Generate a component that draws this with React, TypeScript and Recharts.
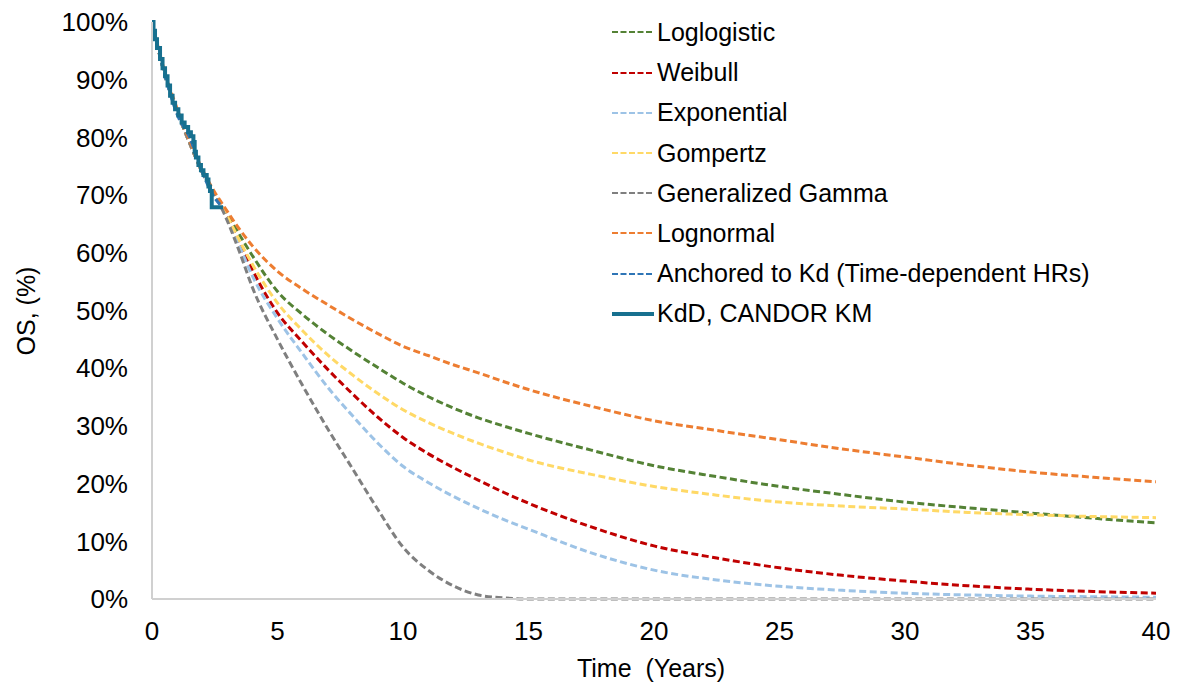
import { Legend, Line, LineChart, XAxis, YAxis } from 'recharts'

// Model time grid (years) and fitted overall survival (%) per distribution
const YEARS = [0, 0.5, 1, 1.5, 2, 2.5, 2.8, 3.5, 4, 5, 6, 7, 8, 9, 10, 11, 12, 13, 14, 15, 17.5, 20, 22.5, 25, 27.5, 30, 32.5, 35, 37.5, 40]

const LOGLOGISTIC = [100, 91, 84.5, 79, 74, 70, 68, 63, 59.5, 53.3, 49.3, 45.9, 42.9, 40.1, 37.4, 35.1, 33.1, 31.4, 30, 28.7, 25.8, 23.1, 21.2, 19.5, 18.1, 16.8, 15.8, 14.9, 14, 13.2]
const WEIBULL = [100, 91, 84.5, 79, 74, 70, 68, 61.5, 57, 49.6, 44.5, 39.8, 35.5, 31.5, 28, 25.2, 22.8, 20.6, 18.5, 16.6, 12.5, 9.2, 7.1, 5.4, 4.1, 3.1, 2.3, 1.7, 1.3, 1.0]
const EXPONENTIAL = [100, 91, 84.5, 79, 74, 70, 68, 61, 56, 48.6, 42.5, 36.7, 31.7, 27, 23, 20.2, 17.8, 15.7, 13.8, 12.1, 8, 5, 3.3, 2.2, 1.5, 1.0, 0.7, 0.5, 0.4, 0.3]
const GOMPERTZ = [100, 91, 84.5, 79, 74, 70, 68, 62, 58, 51.3, 46.5, 42.3, 38.8, 35.6, 32.8, 30.6, 28.7, 27, 25.5, 24.1, 21.6, 19.5, 18, 16.8, 16.1, 15.6, 15, 14.6, 14.3, 14.1]
const GEN_GAMMA = [100, 91, 84.5, 79, 74, 70, 67.5, 60, 54, 45, 37, 29.5, 22.5, 15.5, 9, 5, 2.3, 0.7, 0.2, 0, 0, 0, 0, 0, 0, 0, 0, 0, 0, 0]
const LOGNORMAL = [100, 91.5, 85, 79.5, 74.5, 70.5, 68.5, 64, 61.2, 56.8, 53.7, 51, 48.4, 46, 43.8, 42.2, 40.6, 39.2, 37.7, 36.3, 33.4, 30.9, 29.2, 27.6, 26, 24.6, 23.2, 22, 21.1, 20.3]

// Anchored projection over the observed period
const ANCHORED_YEARS = [0, 0.5, 1, 1.5, 2, 2.5, 2.8]
const ANCHORED = [100, 91, 84, 80, 74, 69.5, 68]

// KdD, CANDOR Kaplan-Meier steps
const KM_YEARS = [0, 0.06, 0.12, 0.2, 0.32, 0.42, 0.52, 0.62, 0.72, 0.82, 0.92, 1.05, 1.18, 1.3, 1.44, 1.55, 1.65, 1.7, 1.75, 1.85, 1.95, 2.05, 2.18, 2.25, 2.31, 2.38, 2.83]
const KM_SURVIVAL = [100, 98.5, 97, 95.5, 93.6, 92, 90.6, 89, 87.2, 86, 84.9, 83.8, 82.6, 81.8, 80.9, 80.2, 79.2, 77.5, 76.5, 75.2, 74.3, 73.5, 72.7, 71.5, 70.7, 67.9, 67.9]

const X_TICKS = [0, 5, 10, 15, 20, 25, 30, 35, 40]
const Y_TICKS = [0, 10, 20, 30, 40, 50, 60, 70, 80, 90, 100]

const FONT = '"Liberation Sans", Arial, sans-serif'

const MODELS = [
  { key: 'loglogistic', name: 'Loglogistic', color: '#548235', values: LOGLOGISTIC },
  { key: 'weibull', name: 'Weibull', color: '#C00000', values: WEIBULL },
  { key: 'exponential', name: 'Exponential', color: '#9DC3E6', values: EXPONENTIAL },
  { key: 'gompertz', name: 'Gompertz', color: '#FFD966', values: GOMPERTZ },
  { key: 'genGamma', name: 'Generalized Gamma', color: '#7F7F7F', values: GEN_GAMMA },
  { key: 'lognormal', name: 'Lognormal', color: '#ED7D31', values: LOGNORMAL },
]

const ANCHORED_COLOR = '#2E75B6'
const KM_COLOR = '#17708F'

const modelRows = YEARS.map((t, i) => {
  const row: Record<string, number> = { t }
  MODELS.forEach((m) => {
    row[m.key] = m.values[i]
  })
  return row
})

const anchoredRows = ANCHORED_YEARS.map((t, i) => ({ t, anchored: ANCHORED[i] }))
const kmRows = KM_YEARS.map((t, i) => ({ t, km: KM_SURVIVAL[i] }))

const legendItems = [
  ...MODELS.map((m) => ({ name: m.name, color: m.color, solid: false })),
  { name: 'Anchored to Kd (Time-dependent HRs)', color: ANCHORED_COLOR, solid: false },
  { name: 'KdD, CANDOR KM', color: KM_COLOR, solid: true },
]

function LegendBox(): React.JSX.Element {
  return (
    <div style={{ fontFamily: FONT, fontSize: 25, color: '#000' }}>
      {legendItems.map((item) => (
        <div key={item.name} style={{ display: 'flex', alignItems: 'center', height: 40.2 }}>
          <svg width={44} height={10} style={{ display: 'block' }}>
            <line
              x1={0}
              x2={42}
              y1={5}
              y2={5}
              stroke={item.color}
              strokeWidth={item.solid ? 4 : 2}
              strokeDasharray={item.solid ? undefined : '6 2.5'}
            />
          </svg>
          <span style={{ marginLeft: 1, whiteSpace: 'pre' }}>{item.name}</span>
        </div>
      ))}
    </div>
  )
}

function YLabel(): React.JSX.Element {
  return (
    <text
      x={35}
      y={311}
      transform="rotate(-90 35 311)"
      textAnchor="middle"
      fontFamily={FONT}
      fontSize={25}
      fill="#000"
    >
      OS, (%)
    </text>
  )
}

function XLabel(): React.JSX.Element {
  return (
    <text
      x={651}
      y={677}
      textAnchor="middle"
      fontFamily={FONT}
      fontSize={25}
      fill="#000"
      style={{ whiteSpace: 'pre' }}
    >
      {'Time  (Years)'}
    </text>
  )
}

export default function App(): React.JSX.Element {
  const tickStyle = { fontFamily: FONT, fontSize: 26, fill: '#000' }
  return (
    <div style={{ position: 'absolute', left: 0, top: 0, width: 1181, height: 688, background: '#fff' }}>
      <LineChart
        width={1181}
        height={688}
        data={modelRows}
        margin={{ top: 22, right: 25, bottom: 29, left: 52 }}
      >
        <XAxis
          dataKey="t"
          type="number"
          domain={[0, 40]}
          ticks={X_TICKS}
          tickLine={false}
          tickSize={0}
          tickMargin={23}
          height={60}
          axisLine={{ stroke: '#D0D0D0', strokeWidth: 2 }}
          tick={tickStyle}
          allowDataOverflow
          label={{ content: () => <XLabel /> }}
        />
        <YAxis
          type="number"
          domain={[0, 100]}
          ticks={Y_TICKS}
          tickFormatter={(v: number) => `${v}%`}
          tickLine={false}
          tickSize={0}
          tickMargin={24}
          width={100}
          axisLine={{ stroke: '#D0D0D0', strokeWidth: 2 }}
          tick={tickStyle}
          label={{ content: () => <YLabel /> }}
        />
        <Legend
          layout="vertical"
          align="center"
          verticalAlign="middle"
          wrapperStyle={{ left: 612, top: 12.4, width: 560, height: 330 }}
          content={() => <LegendBox />}
        />
        {MODELS.map((m) => (
          <Line
            key={m.key}
            dataKey={m.key}
            name={m.name}
            type="monotone"
            stroke={m.color}
            strokeWidth={3}
            strokeDasharray="7 3.5"
            dot={false}
            activeDot={false}
            isAnimationActive={false}
          />
        ))}
        <Line
          data={anchoredRows}
          dataKey="anchored"
          name="Anchored to Kd (Time-dependent HRs)"
          type="monotone"
          stroke={ANCHORED_COLOR}
          strokeWidth={3}
          strokeDasharray="7 3.5"
          dot={false}
          activeDot={false}
          isAnimationActive={false}
        />
        <Line
          data={kmRows}
          dataKey="km"
          name="KdD, CANDOR KM"
          type="stepAfter"
          stroke={KM_COLOR}
          strokeWidth={4}
          dot={false}
          activeDot={false}
          isAnimationActive={false}
        />
      </LineChart>
    </div>
  )
}
